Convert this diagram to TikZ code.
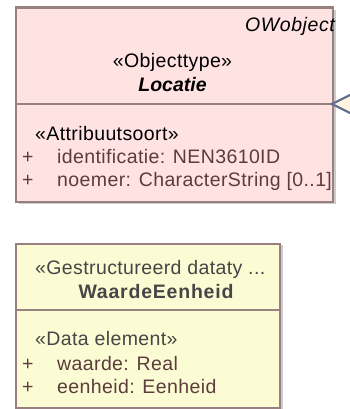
\documentclass[tikz,border=0pt]{standalone}
\usepackage{fontspec}
\setmainfont{Liberation Sans}
\definecolor{boxline}{RGB}{152,128,128}
\definecolor{shadowc}{RGB}{204,204,204}
\definecolor{pinkfill}{RGB}{255,226,226}
\definecolor{yellowfill}{RGB}{251,251,212}
\definecolor{attrtext}{RGB}{92,60,60}
\definecolor{headtext}{RGB}{70,70,70}
\definecolor{arrowc}{RGB}{95,110,140}
\definecolor{arrowfill}{RGB}{255,243,226}
\tikzset{
  umlbox/.style={draw=boxline, line width=2.4pt, rectangle, inner sep=0, anchor=north west},
  shadowbox/.style={fill=shadowc, draw=none, rectangle, inner sep=0, anchor=north west},
  txt/.style={inner sep=0, anchor=base west, font=\fontsize{19.5}{21}\selectfont\addfontfeatures{LetterSpace=2}},
  ctxt/.style={txt, anchor=base},
  rtxt/.style={txt, anchor=base east},
}
\begin{document}
\begin{tikzpicture}[x=1pt,y=-1pt]
\useasboundingbox[fill=white] (0,0) rectangle (350,409);
% top class
\node[shadowbox, minimum width=317pt, minimum height=194pt] (locshadow) at (18.5,9.5) {};
\node[umlbox, fill=pinkfill, minimum width=317pt, minimum height=194pt] (loc) at (14.5,6.5) {};
\coordinate (locdivl) at (14.5,104);
\coordinate (locdivr) at (331.5,104);
\draw[boxline, line width=2.4pt] (locdivl) -- (locdivr);
\node[rtxt, font=\fontsize{19.5}{21}\selectfont\itshape\addfontfeatures{LetterSpace=3}] (ow) at (335,32) {OWobject};
\node[ctxt] (st1) at (172.5,68) {«Objecttype»};
\node[ctxt, font=\fontsize{19.5}{21}\selectfont\bfseries\itshape] (nm1) at (172.5,92) {Locatie};
\node[txt] (as1) at (35,140) {«Attribuutsoort»};
\node[txt, text=attrtext] (p1) at (22,163) {+};
\node[txt, text=attrtext] (a1) at (57,163) {identificatie: NEN3610ID};
\node[txt, text=attrtext] (p2) at (22,186) {+};
\node[txt, text=attrtext] (a2) at (57,186) {noemer: CharacterString [0..1]};
% generalization arrowhead entering from the right
\coordinate (gtip) at (332,104);
\coordinate (gtop) at (354,93);
\coordinate (gbot) at (354,115);
\filldraw[fill=arrowfill, draw=arrowc, line width=2.2pt, line join=miter] (gtop) -- (gtip) -- (gbot);
% bottom class
\node[shadowbox, minimum width=264pt, minimum height=164pt] (wshadow) at (19,245) {};
\node[umlbox, fill=yellowfill, minimum width=264pt, minimum height=164pt] (wae) at (14.5,242.5) {};
\coordinate (wdivl) at (14.5,310);
\coordinate (wdivr) at (278.5,310);
\draw[boxline, line width=2.4pt] (wdivl) -- (wdivr);
\node[txt, text=headtext] (st2) at (35,274) {«Gestructureerd dataty ...};
\node[ctxt, text=headtext, font=\fontsize{19.5}{21}\selectfont\bfseries\addfontfeatures{LetterSpace=4}] (nm2) at (156,298) {WaardeEenheid};
\node[txt, text=headtext] (as2) at (35,345) {«Data element»};
\node[txt, text=attrtext] (p3) at (22,370) {+};
\node[txt, text=attrtext] (a3) at (57,370) {waarde: Real};
\node[txt, text=attrtext] (p4) at (22,393) {+};
\node[txt, text=attrtext] (a4) at (57,393) {eenheid: Eenheid};
\end{tikzpicture}
\end{document}
